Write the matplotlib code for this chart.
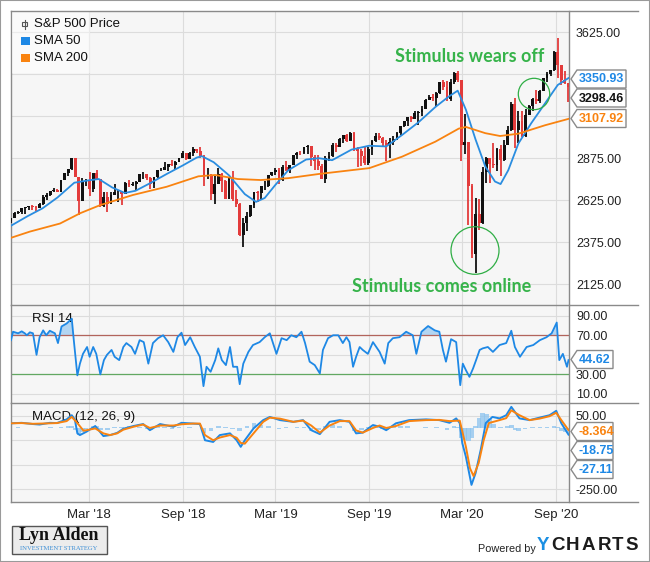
import numpy as np
import pandas as pd
import matplotlib
matplotlib.use("Agg")
import matplotlib.pyplot as plt
from matplotlib.patches import Rectangle, Polygon, Ellipse
from matplotlib.lines import Line2D

plt.rcParams['font.family'] = ['Liberation Sans', 'DejaVu Sans']

# weekly S&P 500 bars (week ending Friday)
first_open = 2502
close = [2519, 2549, 2553, 2575, 2581, 2588, 2582, 2579, 2602, 2642, 2652, 2676, 2683, 2674,
         2743, 2786, 2810, 2873, 2762, 2620, 2732, 2747, 2691, 2787, 2752, 2588, 2641, 2604, 2656, 2670,
         2670, 2663, 2728, 2713, 2721, 2735, 2779, 2780, 2755, 2718, 2760, 2801, 2802, 2819, 2840, 2833,
         2850, 2875, 2902, 2872, 2905, 2930, 2914, 2886, 2767, 2768, 2659, 2723, 2781, 2736, 2633, 2760,
         2633, 2600, 2417, 2486,
         2532, 2596, 2671, 2665, 2707, 2708, 2776, 2793, 2804, 2743, 2822, 2801, 2834, 2893, 2907, 2905,
         2940, 2946, 2881, 2860, 2826, 2752, 2873, 2887, 2950, 2942, 2990, 3014, 2977, 3026, 2932, 2919,
         2889, 2847, 2926, 2979, 3007, 2992, 2962, 2952, 2970, 2986, 3023, 3067, 3093, 3120, 3110, 3141,
         3146, 3169, 3221, 3240,
         3235, 3265, 3330, 3295, 3226, 3328, 3380, 3338, 2954, 2972, 2711, 2305, 2541, 2489, 2790, 2875,
         2837, 2831, 2930, 2864, 2955, 3044, 3194, 3041, 3098, 3009, 3130, 3185, 3225, 3216, 3271, 3351,
         3373, 3397, 3508, 3427, 3341, 3319, 3298]
high = [2520, 2552, 2557, 2576, 2582, 2588, 2597, 2590, 2605, 2657, 2665, 2679, 2695, 2689,
        2744, 2787, 2811, 2873, 2873, 2763, 2754, 2748, 2790, 2787, 2802, 2752, 2675, 2672, 2674, 2718,
        2683, 2677, 2733, 2743, 2734, 2737, 2779, 2790, 2781, 2760, 2761, 2802, 2816, 2849, 2841, 2864,
        2856, 2877, 2916, 2903, 2908, 2941, 2931, 2940, 2894, 2816, 2782, 2766, 2815, 2783, 2746, 2760,
        2800, 2685, 2607, 2520,
        2553, 2598, 2675, 2681, 2708, 2738, 2776, 2794, 2813, 2816, 2831, 2860, 2836, 2894, 2911, 2917,
        2940, 2954, 2947, 2892, 2892, 2841, 2885, 2911, 2964, 2962, 2996, 3014, 3018, 3028, 3027, 2943,
        2931, 2939, 2940, 2985, 3021, 3022, 3002, 2983, 2993, 3008, 3027, 3067, 3098, 3121, 3127, 3155,
        3155, 3183, 3226, 3248,
        3258, 3267, 3330, 3337, 3334, 3347, 3385, 3393, 3338, 3137, 2972, 2718, 2637, 2632, 2819, 2880,
        2876, 2965, 2933, 2955, 2980, 3068, 3211, 3233, 3155, 3154, 3166, 3191, 3233, 3280, 3280, 3352,
        3388, 3400, 3510, 3588, 3428, 3394, 3320]
low = [2488, 2518, 2541, 2544, 2544, 2566, 2566, 2557, 2577, 2598, 2624, 2651, 2673, 2672,
       2673, 2742, 2768, 2805, 2760, 2533, 2618, 2706, 2647, 2675, 2742, 2585, 2586, 2553, 2600, 2654,
       2612, 2594, 2660, 2701, 2707, 2676, 2735, 2752, 2746, 2691, 2698, 2758, 2796, 2802, 2795, 2829,
       2802, 2849, 2873, 2864, 2868, 2887, 2903, 2874, 2710, 2749, 2628, 2604, 2718, 2670, 2631, 2631,
       2621, 2583, 2409, 2346,
       2443, 2525, 2580, 2612, 2631, 2684, 2703, 2770, 2775, 2722, 2741, 2796, 2785, 2832, 2872, 2895,
       2898, 2900, 2825, 2801, 2805, 2750, 2729, 2859, 2884, 2913, 2940, 2963, 2971, 2977, 2914, 2822,
       2825, 2835, 2834, 2891, 2969, 2985, 2946, 2856, 2874, 2952, 2984, 3014, 3059, 3067, 3091, 3108,
       3070, 3124, 3166, 3218,
       3214, 3182, 3254, 3281, 3214, 3216, 3314, 3328, 2855, 2901, 2479, 2281, 2192, 2447, 2485, 2727,
       2727, 2817, 2798, 2767, 2860, 2950, 3038, 2937, 2966, 3003, 2999, 3129, 3154, 3199, 3200, 3271,
       3329, 3362, 3393, 3349, 3310, 3314, 3209]

sma50_dates = ['2017-09-29', '2017-10-31', '2017-11-30', '2017-12-29', '2018-01-31', '2018-02-28',
               '2018-03-20', '2018-04-15', '2018-05-10', '2018-05-31', '2018-06-29', '2018-07-31',
               '2018-08-31', '2018-09-28', '2018-10-08', '2018-10-31', '2018-11-30', '2018-12-31',
               '2019-01-22', '2019-02-08', '2019-02-28', '2019-03-26', '2019-04-30', '2019-05-25',
               '2019-06-20', '2019-07-28', '2019-08-31', '2019-10-04', '2019-11-04', '2019-12-07',
               '2020-01-08', '2020-02-03', '2020-02-21', '2020-03-08', '2020-03-27', '2020-04-15',
               '2020-05-04', '2020-05-15', '2020-05-30', '2020-06-19', '2020-07-14', '2020-08-10',
               '2020-09-04', '2020-09-25']
sma50 = [2472, 2528, 2576, 2640, 2728, 2742, 2750, 2700, 2667, 2680, 2726, 2780, 2830, 2878, 2886,
         2850, 2772, 2660, 2614, 2637, 2712, 2802, 2866, 2874, 2862, 2925, 2948, 2944, 3012, 3090,
         3178, 3240, 3276, 3163, 2985, 2825, 2735, 2720, 2802, 2962, 3082, 3200, 3310, 3351]

sma200_dates = ['2017-09-29', '2017-11-05', '2018-01-03', '2018-02-12', '2018-03-23', '2018-05-26',
                '2018-07-31', '2018-10-01', '2018-11-03', '2018-12-17', '2019-01-31', '2019-03-26',
                '2019-05-25', '2019-09-01', '2019-11-04', '2020-01-08', '2020-02-23', '2020-03-08',
                '2020-04-15', '2020-05-14', '2020-06-19', '2020-08-10', '2020-09-25']
sma200 = [2400, 2437, 2485, 2547, 2595, 2655, 2704, 2766, 2774, 2750, 2744, 2755, 2780, 2815, 2883,
          2972, 3050, 3060, 3023, 3006, 3020, 3070, 3108]

rsi_dates = ['2017-09-29', '2017-10-03', '2017-10-13', '2017-10-20', '2017-10-26', '2017-10-30',
             '2017-11-05', '2017-11-11', '2017-11-18', '2017-11-24', '2017-12-01', '2017-12-07',
             '2017-12-14', '2017-12-24', '2017-12-30', '2018-01-06', '2018-01-16', '2018-01-26',
             '2018-01-30', '2018-02-06', '2018-02-11', '2018-02-17', '2018-02-25', '2018-03-02',
             '2018-03-09', '2018-03-15', '2018-03-23', '2018-03-30', '2018-04-05', '2018-04-14',
             '2018-04-20', '2018-04-29', '2018-05-07', '2018-05-13', '2018-05-23', '2018-05-30',
             '2018-06-08', '2018-06-16', '2018-06-25', '2018-07-04', '2018-07-14', '2018-07-24',
             '2018-08-03', '2018-08-13', '2018-08-21', '2018-08-29', '2018-09-05', '2018-09-15',
             '2018-09-24', '2018-10-04', '2018-10-11', '2018-10-17', '2018-10-25', '2018-11-03',
             '2018-11-09', '2018-11-16', '2018-11-24', '2018-12-02', '2018-12-08', '2018-12-16',
             '2018-12-21', '2018-12-28', '2019-01-07', '2019-01-16', '2019-01-29', '2019-02-08',
             '2019-02-18', '2019-03-03', '2019-03-13', '2019-03-23', '2019-04-01', '2019-04-11',
             '2019-04-21', '2019-04-28', '2019-05-07', '2019-05-17', '2019-05-27', '2019-06-02',
             '2019-06-12', '2019-06-22', '2019-07-02', '2019-07-11', '2019-07-18', '2019-07-24',
             '2019-07-31', '2019-08-06', '2019-08-13', '2019-08-19', '2019-08-29', '2019-09-08',
             '2019-09-21', '2019-10-01', '2019-10-08', '2019-10-17', '2019-10-30', '2019-11-12',
             '2019-11-25', '2019-12-02', '2019-12-12', '2019-12-25', '2020-01-07', '2020-01-16',
             '2020-01-23', '2020-01-29', '2020-02-08', '2020-02-18', '2020-02-26', '2020-03-02',
             '2020-03-08', '2020-03-15', '2020-03-22', '2020-03-28', '2020-04-04', '2020-04-10',
             '2020-04-20', '2020-04-30', '2020-05-13', '2020-05-26', '2020-06-05', '2020-06-12',
             '2020-06-22', '2020-07-05', '2020-07-18', '2020-07-31', '2020-08-13', '2020-08-23',
             '2020-09-02', '2020-09-07', '2020-09-14', '2020-09-22', '2020-09-25']
rsi = [65, 73.6, 72, 74, 72, 70, 73, 72, 50, 68, 75, 70, 74.6, 72, 62, 79, 82, 87, 65, 29, 41, 51,
       58, 48, 58, 51, 30, 44.6, 50, 55, 48, 44.6, 58, 62, 58, 51, 65, 63, 41, 62, 67, 70, 63, 53,
       68, 72.6, 60, 68, 58, 48, 18, 37.8, 32.7, 44.6, 56.6, 44.6, 39.5, 58, 37.8, 37.8, 20, 41, 53,
       60, 63, 68, 72, 51, 67, 65, 70, 68, 73.6, 62, 43, 39.5, 31, 55, 67, 70, 70, 62, 68, 63, 37.8,
       48, 58, 55, 51, 63, 53, 41, 62, 67, 68, 73.6, 70, 51, 73.6, 79.4, 75, 73.6, 55, 43, 66, 63,
       19, 41, 34.4, 27.5, 36, 44.6, 55, 56.6, 58, 53, 60, 62, 74.6, 58, 48, 58, 60, 65, 68, 72, 83,
       44.6, 51, 37.8, 44.62]

macd_dates = ['2017-09-29', '2017-10-20', '2017-11-11', '2017-11-24', '2017-12-14', '2017-12-28',
              '2018-01-16', '2018-01-26', '2018-02-01', '2018-02-06', '2018-02-11', '2018-02-24',
              '2018-03-13', '2018-03-29', '2018-04-11', '2018-04-25', '2018-05-07', '2018-05-27',
              '2018-06-15', '2018-06-28', '2018-07-18', '2018-08-13', '2018-08-29', '2018-09-20',
              '2018-10-04', '2018-10-14', '2018-10-30', '2018-11-12', '2018-12-02', '2018-12-15',
              '2018-12-23', '2018-12-31', '2019-01-17', '2019-02-05', '2019-02-18', '2019-03-10',
              '2019-04-05', '2019-04-24', '2019-05-10', '2019-05-27', '2019-06-15', '2019-07-05',
              '2019-07-24', '2019-08-06', '2019-08-19', '2019-09-08', '2019-09-21', '2019-10-04',
              '2019-10-23', '2019-11-18', '2019-12-21', '2020-01-16', '2020-02-05', '2020-02-18',
              '2020-02-25', '2020-03-01', '2020-03-08', '2020-03-19', '2020-03-27', '2020-04-06',
              '2020-04-16', '2020-04-29', '2020-05-13', '2020-05-26', '2020-06-05', '2020-06-21',
              '2020-07-11', '2020-07-30', '2020-08-19', '2020-09-01', '2020-09-11', '2020-09-25']
macd = [19, 21, 16, 14, 21, 20, 35, 52, 35, -22, -29, -15, 8, -33, -29, -20, -3, 8, 16, -9, 16, 5,
        21, 18, 16, -50, -57, -29, -22, -50, -77, -50, -2, 32, 45, 32, 25, 32, -9, -25, 25, 32, 25,
        -22, -19, 12, 5, -9, 19, 32, 35, 32, 21, 39, 20, -62, -117, -232, -184, -90, 20, 45, 39, 52,
        86, 39, 32, 42, 52, 70, 19, -27.11]

signal_dates = ['2017-09-29', '2017-10-20', '2017-11-11', '2017-12-14', '2017-12-28', '2018-01-16',
                '2018-01-26', '2018-02-06', '2018-02-18', '2018-02-24', '2018-03-13', '2018-03-29',
                '2018-04-11', '2018-04-25', '2018-05-07', '2018-05-27', '2018-06-15', '2018-06-28',
                '2018-07-18', '2018-08-13', '2018-08-29', '2018-09-20', '2018-10-04', '2018-10-14',
                '2018-10-30', '2018-11-12', '2018-12-02', '2018-12-15', '2018-12-23', '2018-12-31',
                '2019-01-17', '2019-02-05', '2019-02-18', '2019-03-10', '2019-04-05', '2019-04-24',
                '2019-05-10', '2019-05-27', '2019-06-15', '2019-07-05', '2019-07-24', '2019-08-06',
                '2019-08-19', '2019-09-08', '2019-09-21', '2019-10-04', '2019-10-23', '2019-11-18',
                '2019-12-21', '2020-01-16', '2020-02-05', '2020-02-25', '2020-03-08', '2020-03-16',
                '2020-03-23', '2020-04-02', '2020-04-12', '2020-04-22', '2020-05-13', '2020-05-26',
                '2020-06-05', '2020-06-21', '2020-07-11', '2020-07-30', '2020-08-19', '2020-09-01',
                '2020-09-11', '2020-09-25']
signal = [19, 20, 17, 19, 20, 28, 45, 20, -11, -9, -2, -22, -29, -22, -7, 5, 14, 0, 10, 10, 15, 18,
          18, -29, -50, -39, -29, -40, -61, -64, -22, 25, 42, 38, 25, 30, 10, -19, 10, 28, 28, -10,
          -19, 0, 10, 0, 8, 28, 32, 33, 28, 30, -76, -164, -196, -143, -49, 20, 32, 40, 72, 52, 32,
          38, 48, 62, 32, -8.364]

hist_dates = ['2017-10-13', '2017-11-03', '2017-11-24', '2017-12-15', '2018-01-05', '2018-01-19',
              '2018-01-26', '2018-02-02', '2018-02-09', '2018-02-16', '2018-02-23', '2018-03-09',
              '2018-03-16', '2018-03-23', '2018-04-06', '2018-04-20', '2018-05-04', '2018-05-18',
              '2018-06-08', '2018-06-22', '2018-06-29', '2018-07-13', '2018-07-27', '2018-08-10',
              '2018-08-24', '2018-09-14', '2018-09-28', '2018-10-12', '2018-10-26', '2018-11-09',
              '2018-11-23', '2018-12-07', '2018-12-21', '2019-01-04', '2019-01-18', '2019-02-01',
              '2019-02-15', '2019-03-08', '2019-03-22', '2019-04-12', '2019-04-26', '2019-05-10',
              '2019-05-24', '2019-06-07', '2019-06-21', '2019-07-05', '2019-07-19', '2019-08-02',
              '2019-08-16', '2019-08-30', '2019-09-13', '2019-09-27', '2019-10-04', '2019-10-18',
              '2019-11-01', '2019-11-15', '2019-12-06', '2019-12-20', '2020-01-10', '2020-01-31',
              '2020-02-14', '2020-02-21', '2020-02-28', '2020-03-06', '2020-03-13', '2020-03-20',
              '2020-03-27', '2020-04-03', '2020-04-10', '2020-04-17', '2020-04-24', '2020-05-01',
              '2020-05-15', '2020-05-29', '2020-06-05', '2020-06-12', '2020-06-19', '2020-07-02',
              '2020-07-17', '2020-07-31', '2020-08-14', '2020-08-28', '2020-09-04', '2020-09-11',
              '2020-09-18', '2020-09-25']
hist = [2, -1, -2, 2, 5, 8, 7, -10, -30, -18, -6, 8, 6, -10, -10, 2, 3, 6, 5, -4, -8, 6, 4, -3, 5,
        2, -2, -22, -12, 8, 2, -4, -14, 8, 20, 12, 6, -6, 2, 4, 2, -14, -8, 6, 14, 8, 0, -12, -8, 2,
        10, -4, -8, 8, 10, 6, -2, 5, 2, -8, 6, 2, -40, -50, -55, -40, 10, 40, 60, 55, 35, 15, 5, 10,
        14, -8, -12, -5, 3, 4, 3, 6, 2, -14, -16, -18.75]

tick_dates = ['2018-03-01', '2018-09-01', '2019-03-01', '2019-09-01', '2020-03-01', '2020-09-01']

BLUE = '#1e88e5'
ORANGE = '#f98310'
GREEN = '#36b34a'
W, H = 650, 562


def P(x, y):
    # pixel position (from top-left) to figure fraction
    return (x / W, 1 - y / H)


fig = plt.figure(figsize=(6.5, 5.62), dpi=100)
fig.patch.set_facecolor('white')


def panel(top, bottom):
    ax = fig.add_axes([11 / W, 1 - bottom / H, 558 / W, (bottom - top) / H])
    ax.set_facecolor('#f6f6f6')
    for s in ('top', 'bottom'):
        ax.spines[s].set_visible(False)
    for s in ('left', 'right'):
        ax.spines[s].set_color('#8a8a8a')
        ax.spines[s].set_linewidth(1)
    ax.yaxis.tick_right()
    ax.tick_params(axis='both', length=0, labelsize=9, labelcolor='#222222')
    ax.tick_params(axis='y', pad=5)
    ax.grid(True, color='#dcdcdc', lw=0.8)
    ax.set_axisbelow(True)
    ax.set_xlim(pd.Timestamp('2017-09-29'), pd.Timestamp('2020-09-26'))
    ax.set_xticks(pd.to_datetime(tick_dates))
    return ax


ax_p = panel(10.7, 305)
ax_r = panel(305, 403)
ax_m = panel(403, 502)

# ---- price panel
weeks = pd.date_range('2017-09-29', periods=len(close), freq='W-FRI')
c = np.array(close, float)
o = np.r_[first_open, c[:-1]]
hi = np.maximum(np.array(high, float), np.maximum(o, c))
lo = np.minimum(np.array(low, float), np.minimum(o, c))
cols = np.where(c >= o, '#111111', '#e33b3b')
ax_p.vlines(weeks, lo, hi, colors=cols, lw=1.3, zorder=3)
ax_p.bar(weeks, c - o, bottom=o, width=5.6, color=cols, zorder=3)
ax_p.plot(pd.to_datetime(sma50_dates), sma50, color='#2a8de0', lw=1.3, zorder=4)
ax_p.plot(pd.to_datetime(sma200_dates), sma200, color=ORANGE, lw=1.3, zorder=4)
ax_p.set_ylim(2000, 3752)
ax_p.set_yticks([2125, 2375, 2625, 2875, 3125, 3375, 3625])
ax_p.set_yticklabels(['2125.00', '2375.00', '2625.00', '2875.00', '', '', '3625.00'])
ax_p.tick_params(labelbottom=False)

# ---- RSI panel
rd = pd.to_datetime(rsi_dates)
rv = np.array(rsi)
ax_r.fill_between(rd, rv, 70, where=rv > 70, interpolate=True, color='#a7d0f2', alpha=0.85, lw=0)
ax_r.fill_between(rd, rv, 30, where=rv < 30, interpolate=True, color='#a7d0f2', alpha=0.85, lw=0)
ax_r.plot(rd, rv, color=BLUE, lw=1.3, zorder=4)
ax_r.axhline(70, color='#b2645c', lw=0.9, zorder=2)
ax_r.axhline(30, color='#62a862', lw=0.9, zorder=2)
ax_r.set_ylim(0.8, 100.9)
ax_r.set_yticks([10, 30, 50, 70, 90])
ax_r.set_yticklabels(['10.00', '30.00', '', '70.00', '90.00'])
ax_r.tick_params(labelbottom=False)
ax_r.text(21 / 558, 0.86, 'RSI 14', transform=ax_r.transAxes, fontsize=9.5, color='#111', va='center')

# ---- MACD panel
ax_m.bar(pd.to_datetime(hist_dates), hist, width=9, color='#8cc3ee', alpha=0.75, zorder=2)
ax_m.plot(pd.to_datetime(macd_dates), macd, color=BLUE, lw=1.4, zorder=4)
ax_m.plot(pd.to_datetime(signal_dates), signal, color=ORANGE, lw=1.4, zorder=4)
ax_m.set_ylim(-301.8, 101.8)
ax_m.set_yticks([-250, -150, -50, 50])
ax_m.set_yticklabels(['-250.00', '', '', '50.00'])
ax_m.set_xticklabels([pd.Timestamp(d).strftime("%b '%y") for d in tick_dates], fontsize=9.5)
ax_m.tick_params(axis='x', pad=5)
ax_m.text(21 / 558, 0.86, 'MACD (12, 26, 9)', transform=ax_m.transAxes, fontsize=9.5,
          color='#111', va='center')

# separators running under the value labels
for yy in (10.7, 305, 403, 502):
    fig.add_artist(Line2D([11 / W, 638 / W], [1 - yy / H] * 2, color='#8a8a8a', lw=1))

# legend
fig.add_artist(Rectangle(P(11.5, 73), 78 / W, 62 / H, transform=fig.transFigure,
                         fc='white', ec='none', alpha=0.45))
fig.add_artist(Line2D([24.5 / W] * 2, [1 - 19.5 / H, 1 - 28.5 / H], color='#555', lw=0.8))
fig.add_artist(Rectangle(P(22.3, 26), 4.4 / W, 4 / H, transform=fig.transFigure,
                         fc='#f6f6f6', ec='#555', lw=0.8))
fig.add_artist(Rectangle(P(21, 45), 8.5 / W, 8.5 / H, transform=fig.transFigure, fc=BLUE, ec='none'))
fig.add_artist(Rectangle(P(21, 62), 8.5 / W, 8.5 / H, transform=fig.transFigure, fc=ORANGE, ec='none'))
for yy, txt in ((24, 'S&P 500 Price'), (41, 'SMA 50'), (58, 'SMA 200')):
    fig.text(*P(34, yy), txt, fontsize=9.5, color='#111', va='center')


def tag(yc, txt, color, x1):
    x0 = 571
    pts = [P(x0, yc), P(x0 + 6, yc - 9), P(x1, yc - 9), P(x1, yc + 9), P(x0 + 6, yc + 9)]
    fig.add_artist(Polygon(pts, closed=True, transform=fig.transFigure, fc='white',
                           ec='#8a8a8a', lw=1))
    fig.text(*P(x0 + 7.5, yc + 0.5), txt, color=color, fontsize=9, fontweight='bold',
             va='center', ha='left')


tag(79, '3350.93', BLUE, 626)
tag(98, '3298.46', '#111111', 626)
tag(118.5, '3107.92', ORANGE, 626)
tag(359.5, '44.62', BLUE, 613)
tag(431.5, '-8.364', ORANGE, 613)
tag(450.5, '-18.75', BLUE, 613)
tag(469.5, '-27.11', BLUE, 613)

# annotations
fig.text(*P(470, 57), 'Stimulus wears off', color=GREEN, fontsize=13, fontweight='bold',
         family='Lato', ha='center', va='center')
fig.text(*P(442, 286), 'Stimulus comes online', color=GREEN, fontsize=13, fontweight='bold',
         family='Lato', ha='center', va='center')
fig.add_artist(Ellipse(P(475, 250.5), 48 / W, 47.6 / H, transform=fig.transFigure,
                       fill=False, ec='#2fae45', lw=0.9))
fig.add_artist(Ellipse(P(534, 94), 31.4 / W, 31.4 / H, transform=fig.transFigure,
                       fill=False, ec='#2fae45', lw=0.9))

# logos
fig.add_artist(Rectangle(P(11.7, 554), 95 / W, 28 / H, transform=fig.transFigure,
                         fc='#ececec', ec='#555', lw=1))
fig.text(*P(59, 535.5), 'Lyn Alden', family='Liberation Serif', fontweight='bold', fontsize=13,
         color='#111', ha='center', va='center')
fig.text(*P(59, 548.5), 'INVESTMENT STRATEGY', family='Liberation Serif', fontsize=4.8,
         color='#3d8fd6', ha='center', va='center')
fig.text(*P(478, 549), 'Powered by', fontsize=7.8, color='#222', ha='left', va='center')
for xx, ch in zip((537, 551, 566, 582, 598, 612, 625), 'YCHARTS'):
    fig.text(*P(xx, 545), ch, fontsize=13.5, fontweight='bold', ha='left', va='center',
             color='#1a8fe3' if ch == 'Y' else '#1c1c1c')

fig.add_artist(Rectangle((0, 0), 1, 1, transform=fig.transFigure, fill=False, ec='#9a9a9a', lw=1.5))

fig.savefig('out.png', dpi=100)
